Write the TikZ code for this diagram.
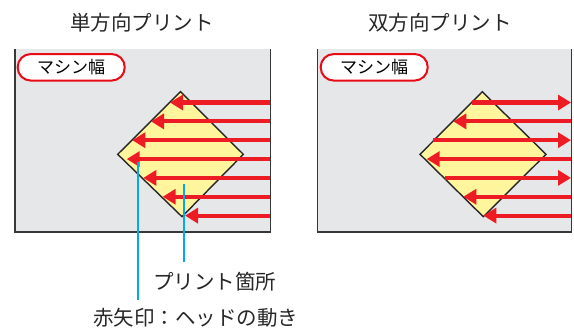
\documentclass[tikz,border=0pt]{standalone}
\usepackage{fontspec}
\setmainfont{Noto Sans CJK JP}
\usetikzlibrary{arrows.meta}
\definecolor{arrowred}{RGB}{237,28,36}
\definecolor{labelred}{RGB}{232,10,20}
\definecolor{callblue}{RGB}{0,170,235}
\definecolor{panelgray}{RGB}{230,231,233}
\definecolor{diamyellow}{RGB}{255,245,157}
\definecolor{borderdark}{RGB}{55,55,55}
\begin{document}
\begin{tikzpicture}[x=1pt,y=-1pt,
  panelfill/.style={fill=panelgray},
  panelborder/.style={draw=borderdark,line width=1.5pt},
  diam/.style={draw=black!85,fill=diamyellow,line width=1.4pt,line join=miter},
  redarrow/.style={draw=arrowred,line width=4.2pt,-{Triangle[width=15pt,length=13pt]}},
  machbox/.style={draw=labelred,fill=white,line width=2pt,rounded corners=13pt,
    minimum width=107pt,minimum height=26.5pt,inner sep=0pt,font=\fontsize{17pt}{17pt}\selectfont},
  titletext/.style={anchor=west,inner sep=0pt,font=\fontsize{20.5pt}{20.5pt}\selectfont,text=black!85},
  labeltext/.style={anchor=west,inner sep=0pt,font=\fontsize{20.5pt}{20.5pt}\selectfont,text=black!85},
  callout/.style={draw=callblue,line width=2pt}]
\useasboundingbox (0,0) rectangle (574,332);

% ---------- titles ----------
\node[titletext] (t1) at (70,23) {単方向プリント};
\node[titletext] (t2) at (368,23) {双方向プリント};

% ---------- left panel ----------
\fill[panelfill] (15,49.3) rectangle (270.7,232);
\coordinate (lt) at (180.5,91.7);
\coordinate (lr) at (243.3,154.3);
\coordinate (lb) at (182,216.7);
\coordinate (ll) at (117.7,154.3);
\draw[diam] (lt) -- (lr) -- (lb) -- (ll) -- cycle;
\foreach \y/\tx in {102.5/170, 121.35/151, 140.2/132.3, 159.05/126.7, 177.9/143.3, 196.75/162.7, 215.6/185}
  \draw[redarrow] (270.7,\y) -- (\tx,\y);
\draw[panelborder] (15,49.3) -- (15,232) -- (270.7,232) -- (270.7,49.3);
\node[machbox] (mw1) at (71.2,67.3) {マシン幅};

% ---------- right panel ----------
\fill[panelfill] (317.5,49.3) rectangle (571.7,232);
\coordinate (rt) at (482.3,91.7);
\coordinate (rr) at (546,154.3);
\coordinate (rb) at (483.3,216.7);
\coordinate (rl) at (420,154.3);
\draw[diam] (rt) -- (rr) -- (rb) -- (rl) -- cycle;
% rightward passes
\foreach \y/\sx in {102.5/471.7, 140.2/433.3, 177.9/445}
  \draw[redarrow] (\sx,\y) -- (571,\y);
% leftward passes
\foreach \y/\tx in {121.35/453.3, 159.05/426.7, 196.75/463.3, 215.6/483.3}
  \draw[redarrow] (571.7,\y) -- (\tx,\y);
\draw[panelborder] (317.5,49.3) -- (317.5,232) -- (571.7,232) -- (571.7,49.3);
\node[machbox] (mw2) at (374.2,67.3) {マシン幅};

% ---------- callouts ----------
\node[labeltext] (lab1) at (153,281.5) {プリント箇所};
\node[labeltext] (lab2) at (93,318) {赤矢印：ヘッドの動き};
\coordinate (c1) at (184,184);
\coordinate (c2) at (138,161.5);
\draw[callout] (c1) -- (c1 |- 0,262);
\draw[callout] (c2) -- (c2 |- 0,300);
\end{tikzpicture}
\end{document}
